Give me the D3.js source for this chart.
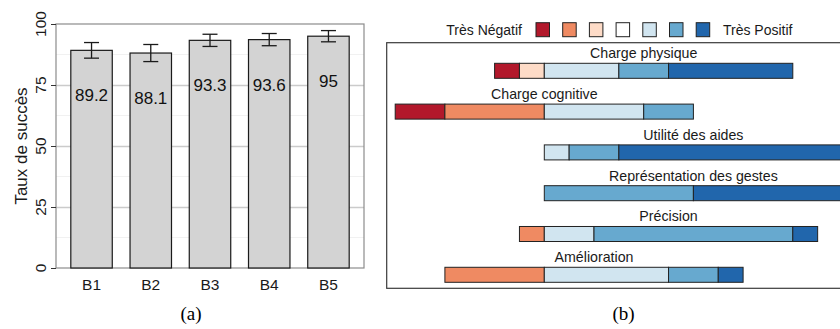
<!DOCTYPE html>
<html>
<head>
<meta charset="utf-8">
<script src="https://cdn.jsdelivr.net/npm/d3@7"></script>
<style>
  body { margin: 0; background: #fff; }
  svg { display: block; font-family: "Liberation Sans", Arial, sans-serif; }
</style>
</head>
<body>
<div id="chart"></div>
<script>
// (a) taux de succès par bloc
let blocs = ["B1", "B2", "B3", "B4", "B5"];
let taux = [89.2, 88.1, 93.3, 93.6, 95];
let erreur = [3.2, 3.5, 2.5, 2.5, 2.3];
let yTicks = [0, 25, 50, 75, 100];

// (b) réponses Likert (12 participants)
let questions = ["Charge physique", "Charge cognitive", "Utilité des aides",
                 "Représentation des gestes", "Précision", "Amélioration"];
let niv1 = [1, 2, 0, 0, 0, 0];  // Très Négatif
let niv2 = [0, 4, 0, 0, 1, 4];
let niv3 = [1, 0, 0, 0, 0, 0];
let niv4 = [0, 0, 0, 0, 0, 0];  // neutre
let niv5 = [3, 4, 1, 0, 2, 5];
let niv6 = [2, 2, 2, 6, 8, 2];
let niv7 = [5, 0, 9, 6, 1, 1];  // Très Positif
let couleurs = ["#b2182b", "#ef8a62", "#fddbc7", "#ffffff", "#d1e5f0", "#67a9cf", "#2166ac"];

let svg = d3.select("#chart").append("svg")
  .attr("width", 840)
  .attr("height", 329);

// ---------- panel (a) ----------
let pa = {left: 56, right: 364, top: 24, bottom: 268};

let x = d3.scaleBand()
  .domain(blocs)
  .range([pa.left, pa.right])
  .paddingInner(0.3)
  .paddingOuter(0.25);

let y = d3.scaleLinear()
  .domain([0, 100])
  .range([pa.bottom, pa.top]);

let ga = svg.append("g");

// minor grid
ga.selectAll(".minor")
  .data([12.5, 37.5, 62.5, 87.5])
  .enter().append("line")
    .attr("x1", pa.left).attr("x2", pa.right)
    .attr("y1", d => y(d)).attr("y2", d => y(d))
    .attr("stroke", "#f1f1f1")
    .attr("stroke-width", 1);

// major grid
ga.append("g")
  .attr("transform", "translate(" + pa.left + ",0)")
  .call(d3.axisLeft(y).tickValues([25, 50, 75]).tickSize(-(pa.right - pa.left)).tickFormat(""))
  .call(g => g.select(".domain").remove())
  .selectAll("line")
    .attr("stroke", "#cbcbcb")
    .attr("stroke-width", 1.3);

// panel border
ga.append("rect")
  .attr("x", pa.left).attr("y", pa.top)
  .attr("width", pa.right - pa.left)
  .attr("height", pa.bottom - pa.top)
  .attr("fill", "none")
  .attr("stroke", "#8c8c8c")
  .attr("stroke-width", 1.2);

// y axis ticks + rotated labels
let yAxis = ga.append("g")
  .attr("transform", "translate(" + pa.left + ",0)")
  .call(d3.axisLeft(y).tickValues(yTicks).tickSize(5).tickFormat(""));
yAxis.select(".domain").remove();
yAxis.selectAll("line").attr("stroke", "#333").attr("stroke-width", 1);

ga.selectAll(".ylab")
  .data(yTicks)
  .enter().append("text")
    .attr("transform", d => "translate(46," + y(d) + ") rotate(-90)")
    .attr("text-anchor", "middle")
    .attr("font-size", 15.5)
    .attr("fill", "#1a1a1a")
    .text(d => d);

// bars
ga.selectAll(".bar")
  .data(taux)
  .enter().append("rect")
    .attr("x", (d, i) => x(blocs[i]))
    .attr("y", d => y(d))
    .attr("width", x.bandwidth())
    .attr("height", d => y(0) - y(d))
    .attr("fill", "#d3d3d3")
    .attr("stroke", "#1a1a1a")
    .attr("stroke-width", 1.2);

// error bars
let eb = ga.selectAll(".err")
  .data(taux)
  .enter().append("g")
    .attr("stroke", "#1a1a1a")
    .attr("stroke-width", 1.3);
let cap = 7.5;
eb.append("line")
  .attr("x1", (d, i) => x(blocs[i]) + x.bandwidth() / 2)
  .attr("x2", (d, i) => x(blocs[i]) + x.bandwidth() / 2)
  .attr("y1", (d, i) => y(d + erreur[i]))
  .attr("y2", (d, i) => y(d - erreur[i]));
eb.append("line")
  .attr("x1", (d, i) => x(blocs[i]) + x.bandwidth() / 2 - cap)
  .attr("x2", (d, i) => x(blocs[i]) + x.bandwidth() / 2 + cap)
  .attr("y1", (d, i) => y(d + erreur[i]))
  .attr("y2", (d, i) => y(d + erreur[i]));
eb.append("line")
  .attr("x1", (d, i) => x(blocs[i]) + x.bandwidth() / 2 - cap)
  .attr("x2", (d, i) => x(blocs[i]) + x.bandwidth() / 2 + cap)
  .attr("y1", (d, i) => y(d - erreur[i]))
  .attr("y2", (d, i) => y(d - erreur[i]));

// value labels inside bars
ga.selectAll(".val")
  .data(taux)
  .enter().append("text")
    .attr("x", (d, i) => x(blocs[i]) + x.bandwidth() / 2)
    .attr("y", d => y(d) + 51)
    .attr("text-anchor", "middle")
    .attr("font-size", 17)
    .attr("fill", "#111")
    .text(d => d);

// x labels
ga.selectAll(".xlab")
  .data(blocs)
  .enter().append("text")
    .attr("x", d => x(d) + x.bandwidth() / 2)
    .attr("y", 289.5)
    .attr("text-anchor", "middle")
    .attr("font-size", 15.5)
    .attr("fill", "#1a1a1a")
    .text(d => d);

ga.append("text")
  .attr("transform", "translate(27," + (pa.top + pa.bottom) / 2 + ") rotate(-90)")
  .attr("text-anchor", "middle")
  .attr("font-size", 17)
  .attr("fill", "#1a1a1a")
  .text("Taux de succès");

svg.append("text")
  .attr("x", 191)
  .attr("y", 320)
  .attr("text-anchor", "middle")
  .attr("font-family", "'Liberation Serif', serif")
  .attr("font-size", 19)
  .text("(a)");

// ---------- panel (b) ----------
let gb = svg.append("g");

let xb = d3.scaleLinear()
  .domain([-6, 12])
  .range([395.2, 842.5]);

let yb = d3.scaleBand()
  .domain(questions)
  .range([63.3, 282.3])
  .paddingInner(0.632)
  .paddingOuter(0);

gb.append("rect")
  .attr("x", 386.7).attr("y", 42.7)
  .attr("width", 470).attr("height", 288.3 - 42.7)
  .attr("fill", "none")
  .attr("stroke", "#3a3a3a")
  .attr("stroke-width", 1.2);

let niveaux = [niv1, niv2, niv3, niv4, niv5, niv6, niv7];

// build segments: negatives + half neutral to the left of zero
let segments = [];
questions.forEach((q, i) => {
  let vals = niveaux.map(n => n[i]);
  let start = -(vals[0] + vals[1] + vals[2] + vals[3] / 2);
  vals.forEach((v, k) => {
    if (v > 0) segments.push({q: q, k: k, x0: start, x1: start + v});
    start += v;
  });
});

gb.selectAll(".seg")
  .data(segments)
  .enter().append("rect")
    .attr("x", d => xb(d.x0))
    .attr("y", d => yb(d.q))
    .attr("width", d => xb(d.x1) - xb(d.x0))
    .attr("height", yb.bandwidth())
    .attr("fill", d => couleurs[d.k])
    .attr("stroke", "#222")
    .attr("stroke-width", 1);

// question titles centred over each bar
gb.selectAll(".qlab")
  .data(questions)
  .enter().append("text")
    .attr("x", (q, i) => {
      let vals = niveaux.map(n => n[i]);
      let lo = -(vals[0] + vals[1] + vals[2] + vals[3] / 2);
      let hi = lo + d3.sum(vals);
      return (xb(lo) + xb(hi)) / 2;
    })
    .attr("y", q => yb(q) - 5)
    .attr("text-anchor", "middle")
    .attr("font-size", 14.2)
    .attr("fill", "#1a1a1a")
    .text(q => q);

// legend
let leg = gb.append("g");
leg.selectAll("rect")
  .data(couleurs)
  .enter().append("rect")
    .attr("x", (d, i) => 536 + i * 26.7)
    .attr("y", 22.7)
    .attr("width", 13.5)
    .attr("height", 14)
    .attr("fill", d => d)
    .attr("stroke", "#222")
    .attr("stroke-width", 1);
leg.append("text")
  .attr("x", 522).attr("y", 35)
  .attr("text-anchor", "end")
  .attr("font-size", 14)
  .attr("fill", "#1a1a1a")
  .text("Très Négatif");
leg.append("text")
  .attr("x", 723).attr("y", 35)
  .attr("font-size", 14)
  .attr("fill", "#1a1a1a")
  .text("Très Positif");

svg.append("text")
  .attr("x", 623.5)
  .attr("y", 320)
  .attr("text-anchor", "middle")
  .attr("font-family", "'Liberation Serif', serif")
  .attr("font-size", 19)
  .text("(b)");
</script>
</body>
</html>
